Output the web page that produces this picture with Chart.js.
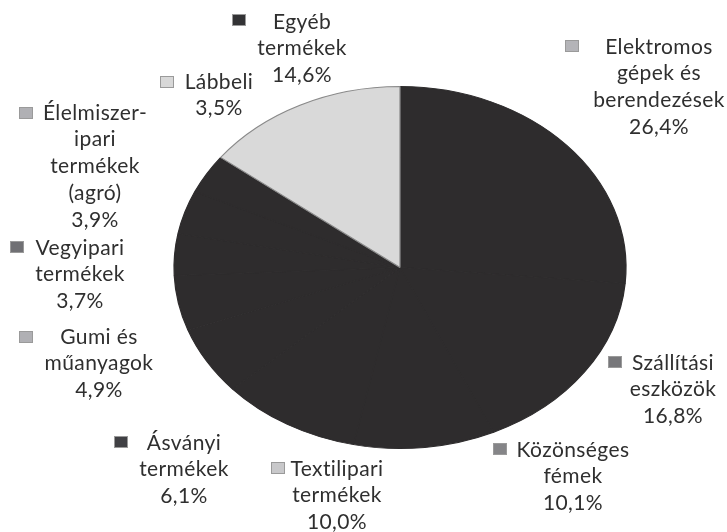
<!DOCTYPE html>
<html>
<head>
<meta charset="utf-8">
<script src="https://cdn.jsdelivr.net/npm/chart.js@4/dist/chart.umd.min.js"></script>
<style>
  html, body { margin: 0; padding: 0; background: #ffffff; }
  #wrap { width: 727px; height: 532px; position: relative; }
</style>
</head>
<body>
<div id="wrap"><canvas id="c" width="727" height="532"></canvas></div>
<script>
// ---- data ----
const categories = [
  "Elektromos\ngépek és\nberendezések",
  "Szállítási\neszközök",
  "Közönséges\nfémek",
  "Textilipari\ntermékek",
  "Ásványi\ntermékek",
  "Gumi és\nműanyagok",
  "Vegyipari\ntermékek",
  "Élelmiszer-\nipari\ntermékek\n(agró)",
  "Lábbeli",
  "Egyéb\ntermékek"
];
const shares = [26.4, 16.8, 10.1, 10.0, 6.1, 4.9, 3.7, 3.9, 3.5, 14.6];

// ---- styles ----
const sliceColors = ["#2e2c2d","#2e2c2d","#2e2c2d","#2e2c2d","#2e2c2d","#2e2c2d","#2e2c2d","#2e2c2d","#2e2c2d","#d9d9d9"];
const sliceBorders = ["#2e2c2d","#2e2c2d","#2e2c2d","#2e2c2d","#2e2c2d","#2e2c2d","#2e2c2d","#2e2c2d","#2e2c2d","#8a8a8a"];
const keyColors = ["#b4b4b8","#77777a","#858588","#c8c8ca","#404044","#b0b0b4","#707074","#b0b0b4","#d8d8d8","#333335"];

// label block layout: text centre x, first line centre y, key centre x/y
const labelLayout = [
  {cx: 659, y: 47,  kx: 572, ky: 46},
  {cx: 673, y: 363, kx: 615, ky: 362},
  {cx: 573, y: 450, kx: 500, ky: 449},
  {cx: 337, y: 469, kx: 278, ky: 468},
  {cx: 184, y: 443, kx: 121, ky: 442},
  {cx: 99,  y: 337, kx: 26,  ky: 337},
  {cx: 80,  y: 248, kx: 17,  ky: 247},
  {cx: 95,  y: 113, kx: 26,  ky: 113},
  {cx: 219, y: 82,  kx: 167, ky: 82},
  {cx: 302, y: 22,  kx: 239, ky: 20}
];
const LINE_H = 26.7;
const STRETCH_X = 226 / 181;

const ellipsePlugin = {
  id: 'ellipse',
  beforeDatasetsDraw(chart) {
    const ctx = chart.ctx;
    const meta = chart.getDatasetMeta(0);
    const cx = meta.data[0].x, cy = meta.data[0].y;
    ctx.save();
    ctx.translate(cx, cy);
    ctx.scale(STRETCH_X, 1);
    ctx.translate(-cx, -cy);
  },
  afterDatasetsDraw(chart) {
    chart.ctx.restore();
  }
};

const labelPlugin = {
  id: 'labels',
  afterDraw(chart) {
    const ctx = chart.ctx;
    const data = chart.data;
    ctx.save();
    ctx.font = '21px Lato';
    if ('letterSpacing' in ctx) ctx.letterSpacing = '0.4px';
    ctx.fillStyle = '#2f2f2f';
    ctx.textAlign = 'center';
    ctx.textBaseline = 'middle';
    data.labels.forEach((lab, i) => {
      const L = labelLayout[i];
      const lines = lab.split('\n');
      const v = data.datasets[0].data[i];
      lines.push(v.toFixed(1).replace('.', ',') + '%');
      lines.forEach((t, j) => ctx.fillText(t, L.cx, L.y + j * LINE_H));
      // legend key
      ctx.fillStyle = keyColors[i];
      ctx.fillRect(L.kx - 6.5, L.ky - 5.5, 13, 11);
      ctx.strokeStyle = '#9a9a9a';
      ctx.lineWidth = 1;
      ctx.strokeRect(L.kx - 6.5, L.ky - 5.5, 13, 11);
      ctx.fillStyle = '#2f2f2f';
    });
    ctx.restore();
  }
};

new Chart(document.getElementById('c'), {
  type: 'pie',
  data: {
    labels: categories,
    datasets: [{
      data: shares,
      backgroundColor: sliceColors,
      borderColor: sliceBorders,
      borderWidth: 1,
      clip: false
    }]
  },
  options: {
    responsive: false,
    animation: false,
    radius: 181,
    layout: { padding: { left: 73, right: 0, top: 3, bottom: 0 } },
    plugins: { legend: { display: false }, tooltip: { enabled: false } }
  },
  plugins: [ellipsePlugin, labelPlugin]
});
</script>
</body>
</html>
